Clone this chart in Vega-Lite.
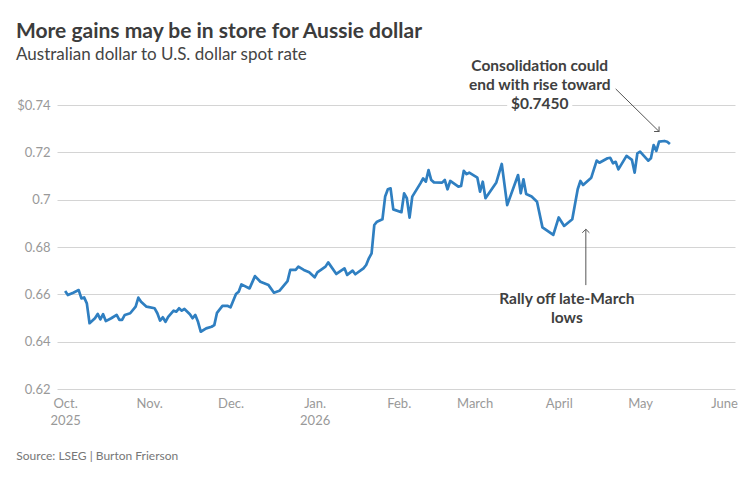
{
  "$schema": "https://vega.github.io/schema/vega-lite/v6.json",
  "width": 678,
  "height": 284,
  "autosize": "none",
  "padding": {"left": 57, "top": 105, "right": 21, "bottom": 91},
  "background": "white",
  "config": {"font": "Lato", "view": {"stroke": null}},
  "title": {
    "text": "More gains may be in store for Aussie dollar",
    "subtitle": "Australian dollar to U.S. dollar spot rate",
    "anchor": "start",
    "frame": "group",
    "dx": -41,
    "offset": -4,
    "fontSize": 21,
    "fontWeight": "bold",
    "color": "#3c3c3c",
    "subtitleFontSize": 17,
    "subtitleFontWeight": "normal",
    "subtitleColor": "#444444",
    "subtitlePadding": 5
  },
  "datasets": {
    "rate": [
      {"date": "2025-10-01", "value": 0.6614},
      {"date": "2025-10-02", "value": 0.6597},
      {"date": "2025-10-04", "value": 0.6607},
      {"date": "2025-10-06", "value": 0.6618},
      {"date": "2025-10-07", "value": 0.6583},
      {"date": "2025-10-08", "value": 0.6587},
      {"date": "2025-10-09", "value": 0.6562},
      {"date": "2025-10-10", "value": 0.6478},
      {"date": "2025-10-12", "value": 0.6499},
      {"date": "2025-10-13", "value": 0.6517},
      {"date": "2025-10-14", "value": 0.6494},
      {"date": "2025-10-15", "value": 0.6516},
      {"date": "2025-10-16", "value": 0.6487},
      {"date": "2025-10-18", "value": 0.6499},
      {"date": "2025-10-20", "value": 0.6513},
      {"date": "2025-10-21", "value": 0.6492},
      {"date": "2025-10-22", "value": 0.6492},
      {"date": "2025-10-23", "value": 0.6513},
      {"date": "2025-10-25", "value": 0.6520},
      {"date": "2025-10-27", "value": 0.6548},
      {"date": "2025-10-28", "value": 0.6586},
      {"date": "2025-10-29", "value": 0.6569},
      {"date": "2025-10-31", "value": 0.6548},
      {"date": "2025-11-03", "value": 0.6541},
      {"date": "2025-11-04", "value": 0.6520},
      {"date": "2025-11-05", "value": 0.6489},
      {"date": "2025-11-06", "value": 0.6503},
      {"date": "2025-11-07", "value": 0.6484},
      {"date": "2025-11-08", "value": 0.6505},
      {"date": "2025-11-10", "value": 0.6531},
      {"date": "2025-11-11", "value": 0.6527},
      {"date": "2025-11-12", "value": 0.6541},
      {"date": "2025-11-13", "value": 0.6531},
      {"date": "2025-11-14", "value": 0.6538},
      {"date": "2025-11-16", "value": 0.6516},
      {"date": "2025-11-17", "value": 0.6499},
      {"date": "2025-11-18", "value": 0.6513},
      {"date": "2025-11-19", "value": 0.6484},
      {"date": "2025-11-20", "value": 0.6442},
      {"date": "2025-11-22", "value": 0.6456},
      {"date": "2025-11-24", "value": 0.6463},
      {"date": "2025-11-25", "value": 0.6470},
      {"date": "2025-11-26", "value": 0.6522},
      {"date": "2025-11-28", "value": 0.6551},
      {"date": "2025-11-30", "value": 0.6551},
      {"date": "2025-12-01", "value": 0.6545},
      {"date": "2025-12-03", "value": 0.6601},
      {"date": "2025-12-04", "value": 0.6611},
      {"date": "2025-12-05", "value": 0.6642},
      {"date": "2025-12-08", "value": 0.6625},
      {"date": "2025-12-10", "value": 0.6677},
      {"date": "2025-12-12", "value": 0.6653},
      {"date": "2025-12-15", "value": 0.6639},
      {"date": "2025-12-17", "value": 0.6607},
      {"date": "2025-12-19", "value": 0.6615},
      {"date": "2025-12-22", "value": 0.6656},
      {"date": "2025-12-23", "value": 0.6703},
      {"date": "2025-12-25", "value": 0.6703},
      {"date": "2025-12-26", "value": 0.6717},
      {"date": "2025-12-28", "value": 0.6703},
      {"date": "2025-12-30", "value": 0.6693},
      {"date": "2026-01-01", "value": 0.6672},
      {"date": "2026-01-02", "value": 0.6693},
      {"date": "2026-01-05", "value": 0.6717},
      {"date": "2026-01-06", "value": 0.6735},
      {"date": "2026-01-09", "value": 0.6686},
      {"date": "2026-01-12", "value": 0.6710},
      {"date": "2026-01-13", "value": 0.6682},
      {"date": "2026-01-15", "value": 0.6700},
      {"date": "2026-01-16", "value": 0.6685},
      {"date": "2026-01-19", "value": 0.6710},
      {"date": "2026-01-20", "value": 0.6724},
      {"date": "2026-01-21", "value": 0.6752},
      {"date": "2026-01-22", "value": 0.6773},
      {"date": "2026-01-23", "value": 0.6893},
      {"date": "2026-01-24", "value": 0.6907},
      {"date": "2026-01-26", "value": 0.6917},
      {"date": "2026-01-27", "value": 0.7013},
      {"date": "2026-01-28", "value": 0.7044},
      {"date": "2026-01-29", "value": 0.7048},
      {"date": "2026-01-30", "value": 0.6959},
      {"date": "2026-02-02", "value": 0.6947},
      {"date": "2026-02-03", "value": 0.7027},
      {"date": "2026-02-04", "value": 0.7006},
      {"date": "2026-02-05", "value": 0.6924},
      {"date": "2026-02-06", "value": 0.7013},
      {"date": "2026-02-09", "value": 0.7069},
      {"date": "2026-02-10", "value": 0.7090},
      {"date": "2026-02-11", "value": 0.7076},
      {"date": "2026-02-12", "value": 0.7125},
      {"date": "2026-02-13", "value": 0.7083},
      {"date": "2026-02-14", "value": 0.7073},
      {"date": "2026-02-17", "value": 0.7072},
      {"date": "2026-02-18", "value": 0.7083},
      {"date": "2026-02-19", "value": 0.7044},
      {"date": "2026-02-20", "value": 0.7079},
      {"date": "2026-02-23", "value": 0.7055},
      {"date": "2026-02-24", "value": 0.7058},
      {"date": "2026-02-25", "value": 0.7122},
      {"date": "2026-02-26", "value": 0.7108},
      {"date": "2026-02-27", "value": 0.7114},
      {"date": "2026-03-02", "value": 0.7093},
      {"date": "2026-03-03", "value": 0.7034},
      {"date": "2026-03-04", "value": 0.7076},
      {"date": "2026-03-05", "value": 0.7006},
      {"date": "2026-03-09", "value": 0.7073},
      {"date": "2026-03-11", "value": 0.7151},
      {"date": "2026-03-13", "value": 0.6977},
      {"date": "2026-03-17", "value": 0.7104},
      {"date": "2026-03-18", "value": 0.7027},
      {"date": "2026-03-19", "value": 0.7086},
      {"date": "2026-03-20", "value": 0.7024},
      {"date": "2026-03-22", "value": 0.7013},
      {"date": "2026-03-24", "value": 0.6991},
      {"date": "2026-03-26", "value": 0.6883},
      {"date": "2026-03-30", "value": 0.6851},
      {"date": "2026-04-01", "value": 0.6925},
      {"date": "2026-04-03", "value": 0.6889},
      {"date": "2026-04-06", "value": 0.6917},
      {"date": "2026-04-08", "value": 0.7044},
      {"date": "2026-04-09", "value": 0.7079},
      {"date": "2026-04-10", "value": 0.7062},
      {"date": "2026-04-13", "value": 0.7093},
      {"date": "2026-04-15", "value": 0.7165},
      {"date": "2026-04-16", "value": 0.7156},
      {"date": "2026-04-19", "value": 0.7175},
      {"date": "2026-04-20", "value": 0.7177},
      {"date": "2026-04-21", "value": 0.7154},
      {"date": "2026-04-22", "value": 0.7160},
      {"date": "2026-04-23", "value": 0.7128},
      {"date": "2026-04-26", "value": 0.7185},
      {"date": "2026-04-28", "value": 0.7168},
      {"date": "2026-04-29", "value": 0.7114},
      {"date": "2026-04-30", "value": 0.7196},
      {"date": "2026-05-01", "value": 0.7203},
      {"date": "2026-05-04", "value": 0.7165},
      {"date": "2026-05-05", "value": 0.7175},
      {"date": "2026-05-06", "value": 0.7231},
      {"date": "2026-05-07", "value": 0.7206},
      {"date": "2026-05-08", "value": 0.7245},
      {"date": "2026-05-10", "value": 0.7248},
      {"date": "2026-05-11", "value": 0.7245},
      {"date": "2026-05-12", "value": 0.7235}
    ],
    "knockouts": [
      {"date": "2026-03-13", "date2": "2026-04-06", "value": 0.7385, "value2": 0.7415},
      {"date": "2026-03-13", "date2": "2026-04-26", "value": 0.6585, "value2": 0.6615}
    ],
    "arrows": [
      {"id": "consolidation", "date": "2026-04-22", "value": 0.7468, "date2": "2026-05-08", "value2": 0.7288},
      {"id": "rally", "date": "2026-04-11", "value": 0.6639, "date2": "2026-04-11", "value2": 0.6875}
    ],
    "notes": [
      {"date": "2026-03-25", "value": 0.7545, "label": "Consolidation could\nend with rise toward\n$0.7450"},
      {"date": "2026-04-04", "value": 0.6558, "label": "Rally off late-March\nlows"}
    ],
    "source": [
      {"date": "2025-09-13", "value": 0.5917, "label": "Source: LSEG | Burton Frierson"}
    ]
  },
  "encoding": {
    "x": {
      "field": "date",
      "type": "temporal",
      "scale": {
        "type": "utc",
        "domain": [
          {"year": 2025, "month": 9, "date": 28, "utc": true},
          {"year": 2026, "month": 6, "date": 5, "utc": true}
        ]
      },
      "axis": {
        "title": null,
        "domain": false,
        "ticks": false,
        "grid": false,
        "values": [
          {"year": 2025, "month": 10, "date": 1, "utc": true},
          {"year": 2025, "month": 11, "date": 1, "utc": true},
          {"year": 2025, "month": 12, "date": 1, "utc": true},
          {"year": 2026, "month": 1, "date": 1, "utc": true},
          {"year": 2026, "month": 2, "date": 1, "utc": true},
          {"year": 2026, "month": 3, "date": 1, "utc": true},
          {"year": 2026, "month": 4, "date": 1, "utc": true},
          {"year": 2026, "month": 5, "date": 1, "utc": true},
          {"year": 2026, "month": 6, "date": 1, "utc": true}
        ],
        "labelExpr": "utcmonth(datum.value) == 9 || utcmonth(datum.value) == 0 ? [['Jan.','','','','','','','','','Oct.'][utcmonth(datum.value)], '' + utcyear(datum.value)] : ['Jan.','Feb.','March','April','May','June','July','Aug.','Sept.','Oct.','Nov.','Dec.'][utcmonth(datum.value)]",
        "labelFlush": false,
        "labelOverlap": false,
        "labelBound": false,
        "labelColor": "#999999",
        "labelFontSize": 13,
        "labelBaseline": "top",
        "labelLineHeight": 17,
        "labelPadding": 8
      }
    },
    "y": {
      "field": "value",
      "type": "quantitative",
      "scale": {"domain": [0.62, 0.74], "zero": false, "nice": false},
      "axis": {
        "title": null,
        "domain": false,
        "ticks": false,
        "grid": true,
        "gridColor": "#d4d4d4",
        "gridWidth": 1,
        "values": [0.62, 0.64, 0.66, 0.68, 0.7, 0.72, 0.74],
        "labelExpr": "datum.value > 0.735 ? '$0.74' : format(datum.value, '~g')",
        "labelColor": "#999999",
        "labelFontSize": 13,
        "labelPadding": 7
      }
    }
  },
  "layer": [
    {
      "data": {"name": "knockouts"},
      "mark": {"type": "rect", "color": "white"},
      "encoding": {
        "x2": {"field": "date2"},
        "y2": {"field": "value2"}
      }
    },
    {
      "data": {"name": "rate"},
      "mark": {"type": "line", "color": "#2f7fc1", "strokeWidth": 2.7, "strokeJoin": "round"},
      "encoding": {}
    },
    {
      "data": {"name": "arrows"},
      "mark": {"type": "rule", "color": "#555555", "strokeWidth": 1},
      "encoding": {
        "x2": {"field": "date2"},
        "y2": {"field": "value2"}
      }
    },
    {
      "data": {"name": "arrows"},
      "transform": [{"filter": "datum.id == 'consolidation'"}],
      "mark": {"type": "point", "shape": "M-1,-1L0,0L-1,1", "size": 50, "filled": false, "color": "#555555", "strokeWidth": 1, "opacity": 1, "angle": 45},
      "encoding": {
        "x": {"field": "date2", "type": "temporal"},
        "y": {"field": "value2", "type": "quantitative"}
      }
    },
    {
      "data": {"name": "arrows"},
      "transform": [{"filter": "datum.id == 'rally'"}],
      "mark": {"type": "point", "shape": "M-1,-1L0,0L-1,1", "size": 50, "filled": false, "color": "#555555", "strokeWidth": 1, "opacity": 1, "angle": 270},
      "encoding": {
        "x": {"field": "date2", "type": "temporal"},
        "y": {"field": "value2", "type": "quantitative"}
      }
    },
    {
      "data": {"name": "notes"},
      "mark": {"type": "text", "align": "center", "baseline": "alphabetic", "lineBreak": "\n", "lineHeight": 19, "fontSize": 15.5, "fontWeight": "bold", "color": "#404040"},
      "encoding": {
        "text": {"field": "label"}
      }
    },
    {
      "data": {"name": "source"},
      "mark": {"type": "text", "align": "left", "baseline": "middle", "fontSize": 12, "color": "#777777"},
      "encoding": {
        "text": {"field": "label"}
      }
    }
  ]
}
